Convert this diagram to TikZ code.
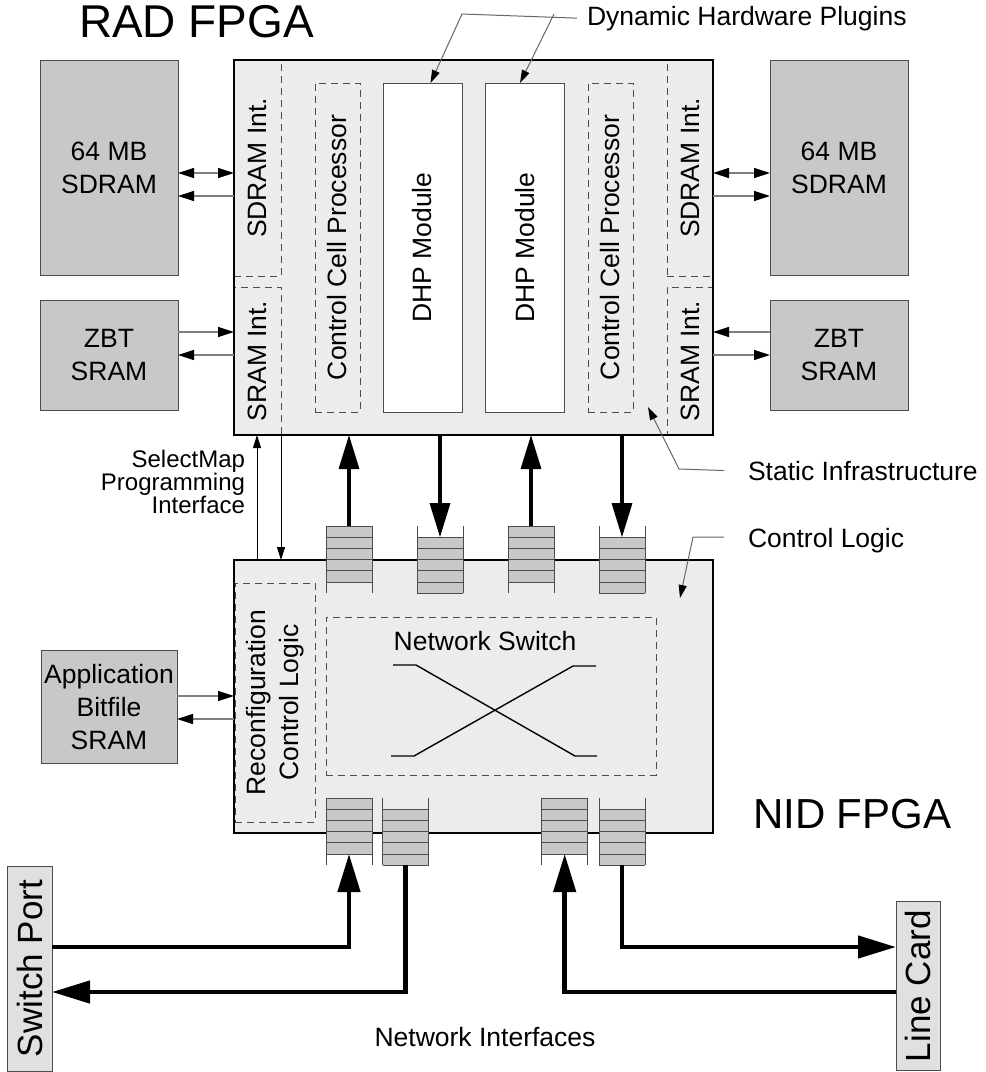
\documentclass[tikz,border=0pt]{standalone}
\usepackage{fontspec}
\setmainfont{Liberation Sans}
\usepackage{xcolor}
\usetikzlibrary{arrows.meta,calc,positioning}

\definecolor{fpgafill}{gray}{0.925}
\definecolor{memfill}{gray}{0.785}
\definecolor{portfill}{gray}{0.88}
\definecolor{edgegray}{gray}{0.3}

\newcommand{\vtext}[1]{\rotatebox{90}{#1}}

\begin{document}
\begin{tikzpicture}[x=1pt, y=-1pt,
      every node/.style={font=\fontsize{26.5}{33}\selectfont, inner sep=0pt, outer sep=0pt},
      fpga/.style={rectangle, fill=fpgafill},
      fpgaedge/.style={draw=black, line width=2.6pt},
      mem/.style={rectangle, draw=edgegray, fill=memfill, line width=1pt, align=center},
      region/.style={rectangle, draw=edgegray, dash pattern=on 7pt off 5pt, line width=0.9pt},
      dhp/.style={rectangle, draw=edgegray, fill=white, line width=1pt},
      port/.style={rectangle, draw=edgegray, fill=portfill, line width=1pt, font=\fontsize{35}{40}\selectfont},
      memhead/.tip={Triangle[length=16pt,width=10pt,color=black]},
      smallhead/.tip={Triangle[length=13pt,width=8pt,color=black]},
      bighead/.tip={Triangle[length=34pt,width=20pt]},
      nethead/.tip={Triangle[length=38pt,width=22pt]},
      memarrow/.style={draw=gray, line width=1.3pt, -memhead},
      memboth/.style={draw=gray, line width=1.3pt, memhead-memhead},
      progarrow/.style={draw=black, line width=1pt, -smallhead},
      annot/.style={draw=gray!80!black, line width=1pt, -smallhead},
      bigarrow/.style={draw=black, line width=3.2pt, -bighead},
      netarrow/.style={draw=black, line width=4.5pt, -nethead},
      switchline/.style={draw=black, line width=1.4pt},
      fifoedge/.style={draw=edgegray, line width=1pt},
      fifoup/.pic={
        \fill[memfill] (-23,0) rectangle (23,56);
        \foreach \k in {0,...,5} \draw[fifoedge] (-23,11.2*\k) -- (23,11.2*\k);
        \draw[fifoedge] (-23,0) -- (-23,67.2) (23,0) -- (23,67.2);
        \coordinate (-top) at (0,0);
        \coordinate (-bot) at (0,56);
      },
      fifodown/.pic={
        \fill[memfill] (-23,11.2) rectangle (23,67.2);
        \foreach \k in {1,...,6} \draw[fifoedge] (-23,11.2*\k) -- (23,11.2*\k);
        \draw[fifoedge] (-23,0) -- (-23,67.2) (23,0) -- (23,67.2);
        \coordinate (-top) at (0,11.2);
        \coordinate (-bot) at (0,67.2);
      }]

      \useasboundingbox (0,0) rectangle (986,1072);

      % Titles
      \node [anchor=base west, font=\fontsize{46}{50}\selectfont] (radt) at (79,37) {RAD FPGA};
      \node [anchor=base west, font=\fontsize{42}{46}\selectfont] (nidt) at (753,828) {NID FPGA};

      % Memories
      \node [mem, minimum width=138pt, minimum height=215pt] (sdl) at (109,167.5) {64 MB\\SDRAM};
      \node [mem, minimum width=138pt, minimum height=110pt] (zbl) at (109,355) {ZBT\\SRAM};
      \node [mem, minimum width=138pt, minimum height=215pt] (sdr) at (839,167.5) {64 MB\\SDRAM};
      \node [mem, minimum width=138pt, minimum height=110pt] (zbr) at (839,355) {ZBT\\SRAM};
      \node [mem, minimum width=136pt, minimum height=113pt] (appsram) at (109,707.4) {Application\\Bitfile\\SRAM};

      % RAD FPGA
      \node [fpga, minimum width=479pt, minimum height=375pt] (rad) at (473.5,247.5) {};
      \node [region, minimum width=47pt, minimum height=216pt] (sdil) at (257.5,168) {\vtext{SDRAM Int.}};
      \node [region, minimum width=47pt, minimum height=148pt] (sril) at (257.5,361) {\vtext{SRAM Int.}};
      \node [region, minimum width=45pt, minimum height=329pt] (ccpl) at (337.5,247.5) {\vtext{Control Cell Processor}};
      \node [dhp, minimum width=79pt, minimum height=329pt] (dhpl) at (422.5,247.5) {\vtext{DHP Module}};
      \node [dhp, minimum width=79pt, minimum height=329pt] (dhpr) at (525,247.5) {\vtext{DHP Module}};
      \node [region, minimum width=45pt, minimum height=329pt] (ccpr) at (610.5,247.5) {\vtext{Control Cell Processor}};
      \node [region, minimum width=46pt, minimum height=216pt] (sdir) at (690,168) {\vtext{SDRAM Int.}};
      \node [region, minimum width=46pt, minimum height=148pt] (srir) at (690,361) {\vtext{SRAM Int.}};
      \draw [fpgaedge] (rad.south west) rectangle (rad.north east);

      % NID FPGA
      \node [fpga, minimum width=479pt, minimum height=273pt] (nid) at (473.5,696.5) {};
      \node [region, minimum width=80pt, minimum height=239pt] (rcl) at (275,702.5)
            {\vtext{\begin{tabular}{@{}c@{}}Reconfiguration\\Control Logic\end{tabular}}};
      \node [region, minimum width=330pt, minimum height=158pt] (nsw) at (491,696) {};
      \node (nswt) at (485,641) {Network Switch};
      \draw [switchline] (393,665) -- (416,665) -- (575,756) -- (597,756);
      \draw [switchline] (391,756) -- (414,756) -- (573,666) -- (596,666);
      \draw [fpgaedge] (nid.south west) rectangle (nid.north east);

      % FIFOs
      \pic (ft1) at (349,526) {fifoup};
      \pic (ft2) at (440,526) {fifodown};
      \pic (ft3) at (531,526) {fifoup};
      \pic (ft4) at (622,526) {fifodown};
      \pic (fb1) at (349,798) {fifoup};
      \pic (fb2) at (405.5,798) {fifodown};
      \pic (fb3) at (564.7,798) {fifoup};
      \pic (fb4) at (622,798) {fifodown};

      % Edges
      \draw [bigarrow] (ft1-top) -- (ft1-top |- rad.south);
      \draw [bigarrow] (ft2-top |- rad.south) -- (ft2-top);
      \draw [bigarrow] (ft3-top) -- (ft3-top |- rad.south);
      \draw [bigarrow] (ft4-top |- rad.south) -- (ft4-top);

      \draw [memboth] ($(sdl.east)+(0,5.5)$) -- ($(sdl.east -| rad.west)+(0,5.5)$);
      \draw [memarrow] ($(sdl.east -| rad.west)+(0,28.5)$) -- ($(sdl.east)+(0,28.5)$);
      \draw [memboth] ($(rad.east |- sdr.west)+(0,5.5)$) -- ($(sdr.west)+(0,5.5)$);
      \draw [memarrow] ($(rad.east |- sdr.west)+(0,28.5)$) -- ($(sdr.west)+(0,28.5)$);
      \draw [memarrow] ($(zbl.east)+(0,-23)$) -- ($(zbl.east -| rad.west)+(0,-23)$);
      \draw [memarrow] (zbl.east -| rad.west) -- (zbl.east);
      \draw [memarrow] ($(zbr.west)+(0,-23)$) -- ($(rad.east |- zbr.west)+(0,-23)$);
      \draw [memarrow] (rad.east |- zbr.west) -- (zbr.west);
      \draw [memarrow] ($(appsram.east)+(0,-11.4)$) -- ($(appsram.east -| nid.west)+(0,-11.4)$);
      \draw [memarrow] ($(appsram.east -| nid.west)+(0,11.6)$) -- ($(appsram.east)+(0,11.6)$);

      \draw [progarrow] ($(nid.north west)+(23,0)$) -- ($(rad.south west)+(23,0)$);
      \draw [progarrow] ($(rad.south west)+(47,0)$) -- ($(nid.north west)+(47,0)$);
      \node [anchor=east, align=right, font=\fontsize{24}{22}\selectfont] (smt) at (245,482) {SelectMap\\Programming\\Interface};

      % Network ports
      \node [port, minimum width=45pt, minimum height=205pt] (sp) at (29.5,968.5) {\vtext{Switch Port}};
      \node [port, minimum width=44pt, minimum height=169pt] (lc) at (918,986.2) {\vtext{Line Card}};
      \draw [netarrow] ($(sp.east)+(0,-21.5)$) -| (fb1-bot);
      \draw [netarrow] (fb2-bot) |- ($(sp.east)+(0,23.5)$);
      \draw [netarrow] ($(lc.west)+(0,5.8)$) -| (fb3-bot);
      \draw [netarrow] (fb4-bot) |- ($(lc.west)+(0,-39.2)$);
      \node (nit) at (485,1037) {Network Interfaces};

      % Annotations
      \node [anchor=base west] (dhpt) at (587,25) {Dynamic Hardware Plugins};
      \coordinate (dhpknee) at (462,14);
      \coordinate (dhpfork) at (554,14);
      \draw [annot] ([xshift=-10pt]dhpt.west) -- (dhpknee) -- ($(dhpl.north)+(8,0)$);
      \draw [annot] (dhpfork) -- ($(dhpr.north)+(-5,0)$);

      \node [anchor=base west] (sit) at (748,480) {Static Infrastructure};
      \coordinate (siknee) at (679,469);
      \coordinate (sitip) at (648,407);
      \draw [annot] ([xshift=-24pt]sit.west) -- (siknee) -- (sitip);

      \node [anchor=base west] (clt) at (748,547) {Control Logic};
      \coordinate (clknee) at (693,537);
      \coordinate (cltip) at (680,598);
      \draw [annot] ([shift={(-24pt,3pt)}]clt.west) -- (clknee) -- (cltip);

    \end{tikzpicture}
\end{document}
